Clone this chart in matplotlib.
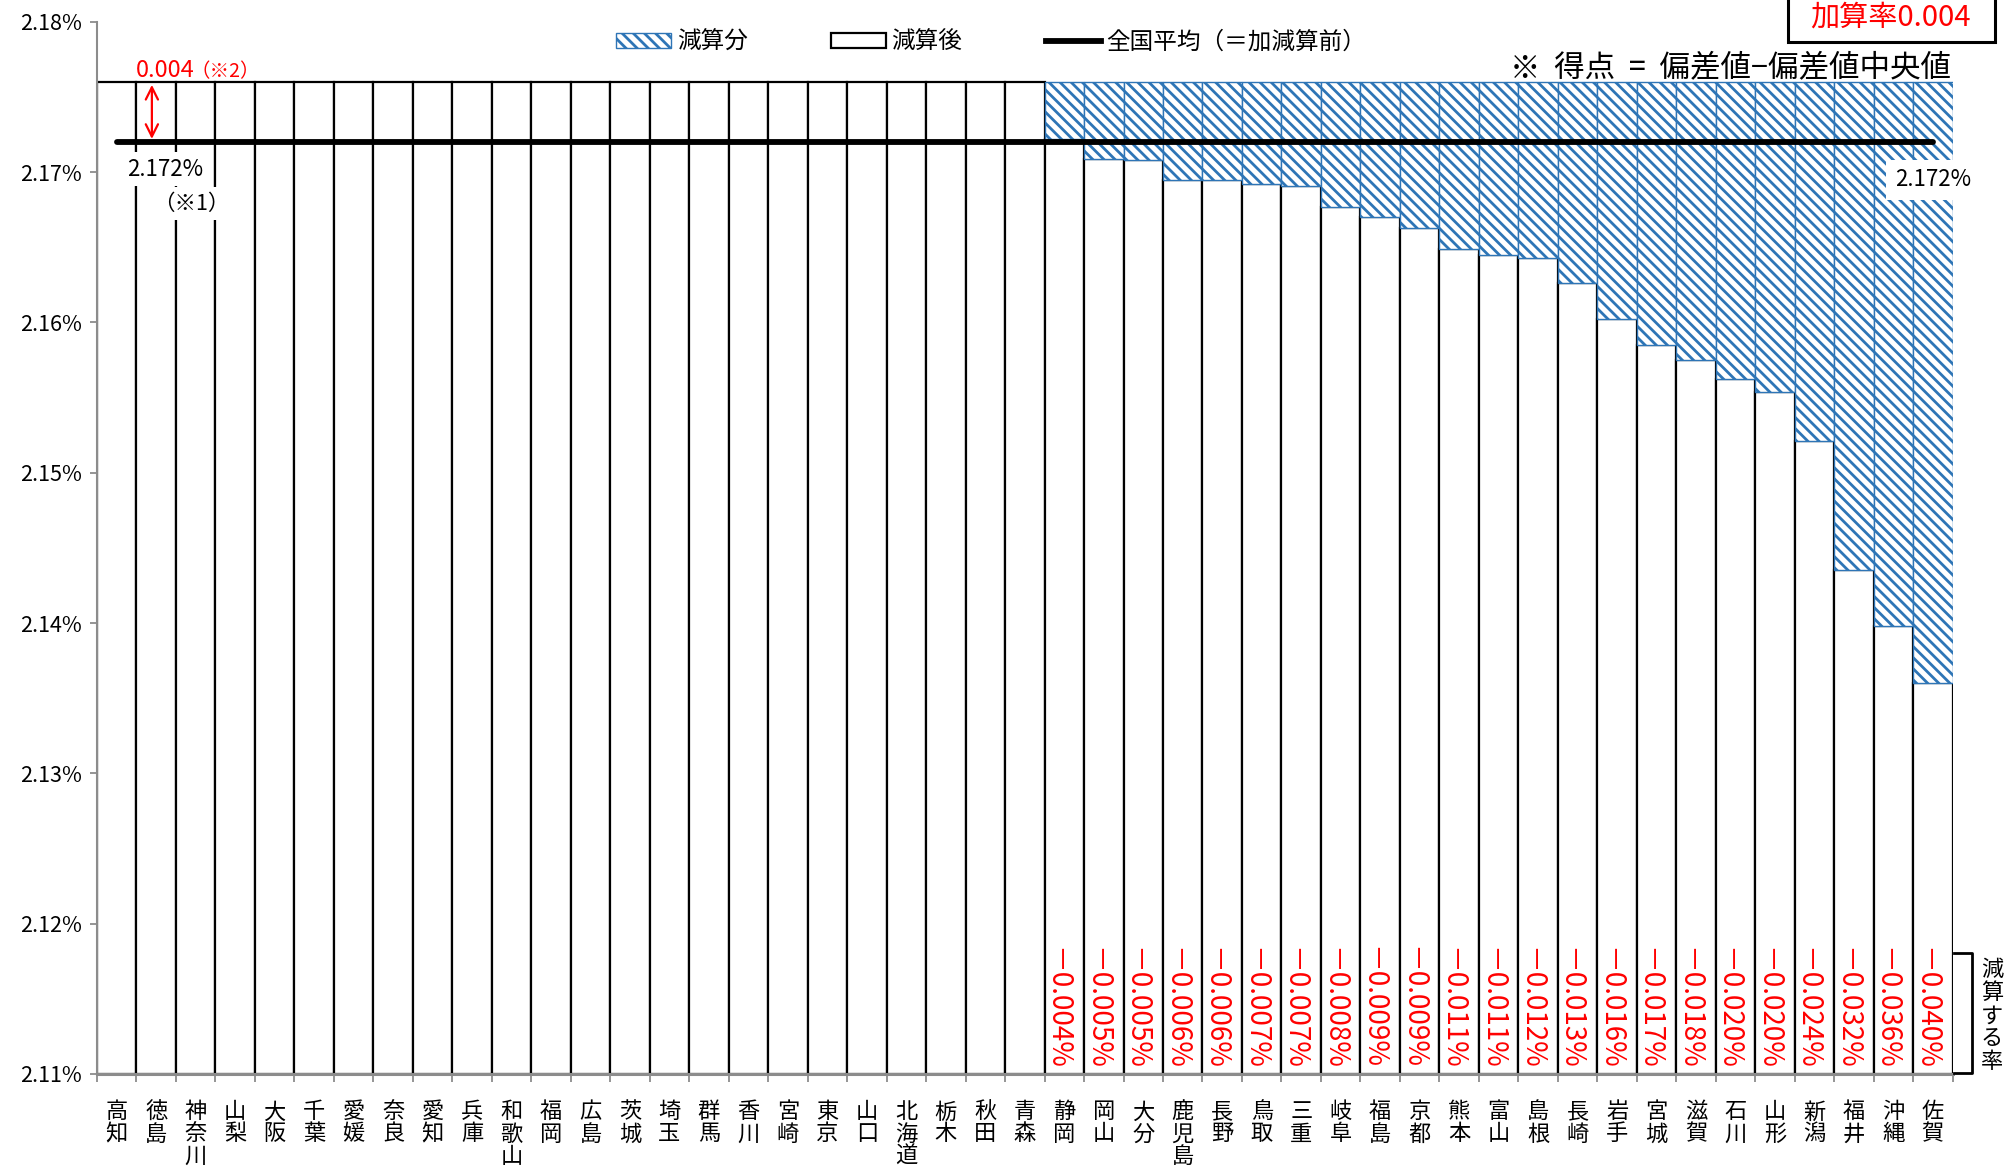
import matplotlib
matplotlib.use("Agg")
import matplotlib.pyplot as plt
from matplotlib.patches import Patch, Rectangle
from matplotlib.lines import Line2D
import numpy as np

plt.rcParams['font.family'] = ['Noto Sans CJK JP', 'DejaVu Sans']
plt.rcParams['hatch.linewidth'] = 2.0

# ---------------- data ----------------
prefectures = ["高知", "徳島", "神奈川", "山梨", "大阪", "千葉", "愛媛", "奈良", "愛知", "兵庫",
               "和歌山", "福岡", "広島", "茨城", "埼玉", "群馬", "香川", "宮崎", "東京", "山口",
               "北海道", "栃木", "秋田", "青森", "静岡", "岡山", "大分", "鹿児島", "長野", "鳥取",
               "三重", "岐阜", "福島", "京都", "熊本", "富山", "島根", "長崎", "岩手", "宮城",
               "滋賀", "石川", "山形", "新潟", "福井", "沖縄", "佐賀"]
national_avg = 2.172      # 全国平均（＝加減算前） %
addition = 0.004          # 加算率
deduction = [0, 0, 0, 0, 0, 0, 0, 0, 0, 0,
             0, 0, 0, 0, 0, 0, 0, 0, 0, 0,
             0, 0, 0, 0, 0.0038, 0.0051, 0.0052, 0.0065, 0.0065, 0.0068,
             0.0069, 0.0083, 0.0090, 0.0097, 0.0111, 0.0115, 0.0117, 0.0134, 0.0158, 0.0175,
             0.0185, 0.0198, 0.0206, 0.0239, 0.0325, 0.0362, 0.0400]
deduction_labels = ["－0.004%", "－0.005%", "－0.005%", "－0.006%", "－0.006%", "－0.007%",
                    "－0.007%", "－0.008%", "－0.009%", "－0.009%", "－0.011%", "－0.011%",
                    "－0.012%", "－0.013%", "－0.016%", "－0.017%", "－0.018%", "－0.020%",
                    "－0.020%", "－0.024%", "－0.032%", "－0.036%", "－0.040%"]
y_ticks = [2.11, 2.12, 2.13, 2.14, 2.15, 2.16, 2.17, 2.18]

# ---------------- figure ----------------
fig = plt.figure(figsize=(20.05, 11.67), dpi=100)
ax = fig.add_axes([0.04838, 0.0797, 0.92549, 0.9017])

n = len(prefectures)
x = np.arange(n)
ded = np.array(deduction)
top = national_avg + addition
after = top - ded
ymin, ymax = y_ticks[0], y_ticks[-1]

blue = '#2E75B6'
ax.bar(x, after - ymin, bottom=ymin, width=1.0, color='white',
       edgecolor='black', linewidth=1.6, zorder=2)
mask = ded > 0
ax.bar(x[mask], ded[mask], bottom=after[mask], width=1.0, color='white',
       edgecolor=blue, hatch='\\\\\\', linewidth=1.0, zorder=3)

ax.plot(x, [national_avg] * n, color='black', lw=4.2, solid_capstyle='round', zorder=5)

ax.set_xlim(-0.5, n - 0.5)
ax.set_ylim(ymin, ymax)

# axes styling
for s in ['top', 'right']:
    ax.spines[s].set_visible(False)
ax.spines['left'].set_color('#8c8c8c')
ax.spines['left'].set_linewidth(1.5)
ax.spines['bottom'].set_color('#8c8c8c')
ax.spines['bottom'].set_linewidth(2.2)
ax.spines['bottom'].set_zorder(6)

ax.set_yticks(y_ticks)
ax.set_yticklabels([f"{v:.2f}%" for v in y_ticks], fontsize=15.5)
ax.tick_params(axis='y', direction='out', length=5, width=1.3, color='#8c8c8c', pad=6)

ax.set_xticks(x)
ax.set_xticklabels(['\n'.join(p) for p in prefectures], fontsize=16, linespacing=0.95, va='top')
ax.tick_params(axis='x', which='major', length=0, pad=19)
ax.set_xticks(np.arange(-0.5, n), minor=True)
ax.tick_params(axis='x', which='minor', direction='out', length=6, width=1.3, color='#8c8c8c')

# deduction labels (rotated, red)
for xi, lab in zip(x[mask], deduction_labels):
    ax.text(xi - 0.2, 2.1103, lab, rotation=270, color='red', fontsize=20,
            ha='center', va='bottom', zorder=7)

# legend
handles = [Patch(facecolor='white', edgecolor=blue, hatch='\\\\\\', linewidth=1.0, label='減算分'),
           Patch(facecolor='white', edgecolor='black', linewidth=1.6, label='減算後'),
           Line2D([0], [0], color='black', lw=4.2, label='全国平均（＝加減算前）')]
ax.legend(handles=handles, loc='center', bbox_to_anchor=(0.482, 0.9805), ncol=3,
          frameon=False, fontsize=17, handlelength=2.3, handleheight=0.65,
          handletextpad=0.25, columnspacing=3.55, borderpad=0)

# formula note
ax.text(46.45, 2.1764, "※  得点  =  偏差値−偏差値中央値", fontsize=22, ha='right', va='baseline',
        zorder=7)

# 加算率 box
fig.patches.append(Rectangle((0.8918, 0.9638), 0.1032, 0.1, transform=fig.transFigure,
                             facecolor='white', edgecolor='black', linewidth=2.2, zorder=10))
fig.text(0.9427, 0.9846, "加算率0.004", color='red', fontsize=21, ha='center', va='center', zorder=11)

# red annotation for addition
ax.text(0.49, 2.1763, "0.004", color='red', fontsize=17, ha='left', va='baseline', zorder=7)
ax.text(1.88, 2.1763, "（※2）", color='red', fontsize=14, ha='left', va='baseline', zorder=7)
ax.annotate('', xy=(0.89, top - 0.0002), xytext=(0.89, national_avg + 0.0002),
            arrowprops=dict(arrowstyle='<->', color='red', lw=1.6, shrinkA=0, shrinkB=0,
                            mutation_scale=22), zorder=7)

# 2.172% labels
ax.text(1.22, 2.1702, f"{national_avg:.3f}%", fontsize=16, ha='center', va='center', zorder=7,
        bbox=dict(facecolor='white', edgecolor='none', pad=4))
ax.text(1.9, 2.1679, "（※1）", fontsize=15.5, ha='center', va='center', zorder=7,
        bbox=dict(facecolor='white', edgecolor='none', pad=4))
ax.text(46.0, 2.16947, f"{national_avg:.3f}%", fontsize=16, ha='center', va='center', zorder=7,
        bbox=dict(facecolor='white', edgecolor='none', pad=6), clip_on=False)

# bracket and 減算する率
ax.plot([46.53, 47.0, 47.0, 46.53], [2.11808, 2.11808, 2.11008, 2.11008], color='black', lw=2,
        solid_joinstyle='round', clip_on=False, zorder=7)
ax.text(47.5, 2.1177, '\n'.join("減算する率"), fontsize=16, ha='center', va='top',
        linespacing=1.0, clip_on=False)

fig.savefig('out.png', dpi=100, facecolor='white')
